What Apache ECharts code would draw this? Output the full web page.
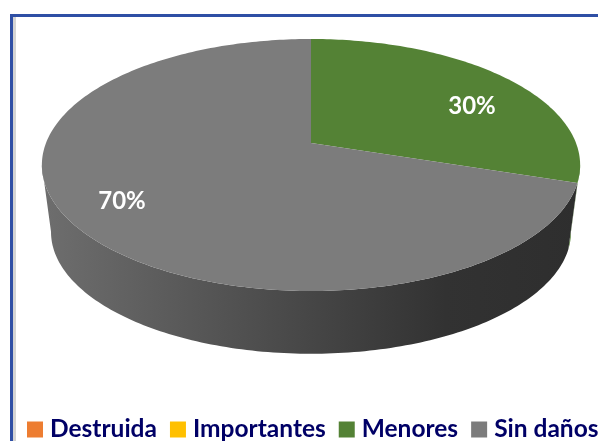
<!DOCTYPE html>
<html>
<head>
<meta charset="utf-8">
<style>
  html, body { margin: 0; padding: 0; background: #fff; overflow: hidden; }
  #main { width: 598px; height: 441px; }
</style>
<script src="https://cdn.jsdelivr.net/npm/echarts@6/dist/echarts.min.js"></script>
</head>
<body>
<div id="main"></div>
<script>
// datos de la grafica
var categories = ["Destruida", "Importantes", "Menores", "Sin daños"];
var values = [0, 0, 30, 70];
var colors = ["#ED7D31", "#FFC000", "#548235", "#7C7C7C"];

var total = values.reduce(function (a, b) { return a + b; }, 0);

// disco visto en perspectiva: circulo unidad -> pantalla
var persp = -0.1746;
var topFace = { cx: 311, cy: 165, k: 265, a: 126, b: -22 };
var bottomFace = { cx: 311, cy: 232, k: 256, a: 121.8, b: -21.3 };
// solo esta parte del canto se ve de frente
var sideFrom = 100, sideTo = 260;
var labelPos = { "Menores": [472, 106], "Sin daños": [122, 201] };

function project(face, t, r) {
  var rad = (t * Math.PI) / 180;
  var X = r * Math.sin(rad);
  var Y = -r * Math.cos(rad);
  var den = 1 + persp * Y;
  return [face.cx + (face.k * X) / den, face.cy + (face.a * Y + face.b) / den];
}

function rim(face, from, to) {
  var pts = [];
  var n = Math.max(2, Math.ceil(Math.abs(to - from)));
  for (var i = 0; i <= n; i++) {
    pts.push(project(face, from + ((to - from) * i) / n, 1));
  }
  return pts;
}

function sideColor(idx) {
  if (categories[idx] !== "Sin daños") return colors[idx];
  return {
    type: "linear", x: 42, y: 0, x2: 580, y2: 0, global: true,
    colorStops: [
      { offset: 0, color: "#6e6e6e" },
      { offset: 0.3, color: "#565656" },
      { offset: 0.5, color: "#464646" },
      { offset: 0.75, color: "#323232" },
      { offset: 1, color: "#2e2e2e" }
    ]
  };
}

function makeRender(idx) {
  return function (params, api) {
    var val = api.value(0);
    if (!val) return null;
    var before = 0;
    for (var i = 0; i < idx; i++) before += values[i];
    var start = (before / total) * 360;
    var end = ((before + val) / total) * 360;

    var children = [];
    var sFrom = Math.max(start, sideFrom);
    var sTo = Math.min(end, sideTo);
    if (sTo > sFrom) {
      children.push({
        type: "polygon",
        shape: { points: rim(topFace, sFrom, sTo).concat(rim(bottomFace, sTo, sFrom)) },
        style: { fill: sideColor(idx) }
      });
    }
    children.push({
      type: "polygon",
      shape: { points: [project(topFace, 0, 0)].concat(rim(topFace, start, end)) },
      style: { fill: colors[idx] }
    });
    var pos = labelPos[categories[idx]];
    children.push({
      type: "text",
      z2: 10,
      style: {
        x: pos[0], y: pos[1], text: Math.round((val / total) * 100) + "%",
        fill: "#fff", align: "center", verticalAlign: "middle",
        font: "bold 24px Lato"
      }
    });
    return { type: "group", children: children };
  };
}

var chart = echarts.init(document.getElementById("main"), null, { renderer: "canvas" });
chart.setOption({
  animation: false,
  backgroundColor: "#fff",
  legend: {
    data: categories,
    left: 27,
    top: 417,
    width: 800,
    padding: 0,
    icon: "rect",
    itemWidth: 16,
    itemHeight: 16,
    itemGap: 13,
    selectedMode: false,
    textStyle: {
      color: "#000066",
      fontFamily: "Lato",
      fontWeight: "bold",
      fontSize: 24.5,
      padding: [0, 0, 0, 2]
    }
  },
  graphic: [
    { type: "rect", shape: { x: 13, y: 17, width: 3, height: 424 }, style: { fill: "#d4d4d4" } },
    { type: "rect", shape: { x: 10, y: 14, width: 3, height: 427 }, style: { fill: "#2f4fa5" } },
    { type: "rect", shape: { x: 10, y: 14, width: 588, height: 3 }, style: { fill: "#2f4fa5" } }
  ],
  series: categories.map(function (name, idx) {
    return {
      type: "custom",
      name: name,
      coordinateSystem: "none",
      silent: true,
      itemStyle: { color: colors[idx] },
      data: [[values[idx]]],
      renderItem: makeRender(idx)
    };
  })
});
</script>
</body>
</html>
